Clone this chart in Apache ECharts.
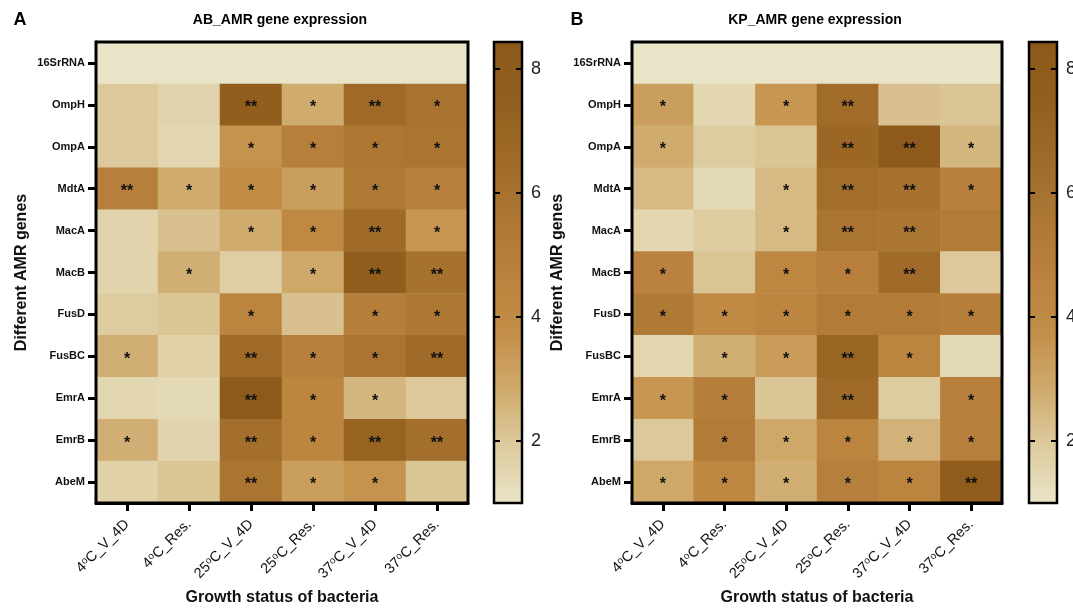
<!DOCTYPE html>
<html><head><meta charset="utf-8">
<script src="https://cdn.jsdelivr.net/npm/echarts@6/dist/echarts.min.js"></script>
<style>html,body{margin:0;padding:0;background:#fff}#c{width:1073px;height:608px}</style>
</head><body><div id="c"></div>
<script>
const conditions = ['4oC_V_4D', '4oC_Res.', '25oC_V_4D', '25oC_Res.', '37oC_V_4D', '37oC_Res.'];
const genes = ['16SrRNA', 'OmpH', 'OmpA', 'MdtA', 'MacA', 'MacB', 'FusD', 'FusBC', 'EmrA', 'EmrB', 'AbeM'];

// AB panel: fold change per gene (rows) x condition (columns)
const abValues = [
  [1.0, 1.0, 1.0, 1.0, 1.0, 1.0],
  [2.0, 1.6, 7.7, 2.8, 6.6, 5.9],
  [2.0, 1.5, 3.6, 4.9, 5.6, 5.8],
  [4.9, 2.8, 3.9, 3.2, 5.4, 4.8],
  [1.6, 2.2, 2.8, 4.1, 6.5, 3.5],
  [1.6, 2.7, 1.8, 2.9, 7.7, 6.0],
  [1.9, 2.1, 4.5, 2.2, 5.0, 5.5],
  [2.7, 1.7, 6.6, 4.8, 5.8, 6.5],
  [1.5, 1.4, 8.2, 4.4, 2.5, 2.0],
  [2.7, 1.6, 6.2, 4.4, 7.2, 6.2],
  [1.7, 2.1, 5.8, 3.2, 3.6, 2.1]
];
const abStars = [
  ['', '', '', '', '', ''],
  ['', '', '**', '*', '**', '*'],
  ['', '', '*', '*', '*', '*'],
  ['**', '*', '*', '*', '*', '*'],
  ['', '', '*', '*', '**', '*'],
  ['', '*', '', '*', '**', '**'],
  ['', '', '*', '', '*', '*'],
  ['*', '', '**', '*', '*', '**'],
  ['', '', '**', '*', '*', ''],
  ['*', '', '**', '*', '**', '**'],
  ['', '', '**', '*', '*', '']
];

// KP panel
const kpValues = [
  [1.0, 1.0, 1.0, 1.0, 1.0, 1.0],
  [3.2, 1.5, 3.5, 6.4, 2.2, 2.1],
  [2.8, 1.9, 2.1, 6.8, 8.2, 2.5],
  [2.4, 1.4, 2.4, 6.3, 6.0, 4.7],
  [1.5, 1.9, 2.4, 5.8, 5.7, 5.2],
  [4.6, 2.1, 4.3, 4.8, 6.5, 2.0],
  [5.4, 4.0, 4.4, 5.2, 5.2, 5.0],
  [1.5, 2.7, 3.3, 7.0, 4.5, 1.4],
  [3.5, 5.0, 2.1, 6.6, 1.9, 4.8],
  [2.0, 5.2, 2.9, 4.5, 2.6, 4.9],
  [2.9, 4.3, 2.7, 4.9, 4.5, 7.9]
];
const kpStars = [
  ['', '', '', '', '', ''],
  ['*', '', '*', '**', '', ''],
  ['*', '', '', '**', '**', '*'],
  ['', '', '*', '**', '**', '*'],
  ['', '', '*', '**', '**', ''],
  ['*', '', '*', '*', '**', ''],
  ['*', '*', '*', '*', '*', '*'],
  ['', '*', '*', '**', '*', ''],
  ['*', '*', '', '**', '', '*'],
  ['', '*', '*', '*', '*', '*'],
  ['*', '*', '*', '*', '*', '**']
];

const colorbarTicks = [2, 4, 6, 8];
const scaleMin = 1, scaleMax = 8.43;
const rampColors = ['#E9E4C7', '#DDCB9E', '#CFA96B', '#C28D47', '#B9813D', '#AC7633', '#9F6A27', '#925F1E', '#8C591A'];

function toCells(vals) {
  const out = [];
  vals.forEach((row, r) => row.forEach((v, c) => out.push([c, r, v])));
  return out;
}

const FONT = 'Arial, "Liberation Sans", sans-serif';
const panels = [
  {left: 96, width: 372, cbLeft: 494, letter: 'A', letterX: 20, title: 'AB_AMR gene expression', values: abValues, stars: abStars},
  {left: 632, width: 370, cbLeft: 1029, letter: 'B', letterX: 577, title: 'KP_AMR gene expression', values: kpValues, stars: kpStars}
];
const TOP = 42, HEIGHT = 461, CBW = 28;

const grid = [], xAxis = [], yAxis = [], series = [], visualMap = [], graphic = [];
panels.forEach((p, i) => {
  grid.push({left: p.left, top: TOP, width: p.width, height: HEIGHT, show: true, borderColor: '#000', borderWidth: 3, backgroundColor: 'transparent', z: 10, outerBoundsMode: 'none', containLabel: false});
  xAxis.push({
    type: 'category', gridIndex: grid.length - 1, data: conditions,
    axisLine: {show: true, lineStyle: {color: '#000', width: 3}},
    axisTick: {show: true, alignWithLabel: true, length: 8, lineStyle: {color: '#000', width: 3}},
    splitLine: {show: false},
    axisLabel: {
      rotate: 45, margin: 19, color: '#111', fontSize: 14.5, fontFamily: FONT,
      formatter: v => v.replace('oC', '{s|o}C'),
      rich: {s: {fontSize: 10, color: '#111', fontFamily: FONT, verticalAlign: 'bottom', padding: [0, 0, 5, 0]}}
    },
    name: 'Growth status of bacteria', nameLocation: 'middle', nameGap: 87,
    nameTextStyle: {fontSize: 16, fontWeight: 'bold', color: '#111', fontFamily: FONT}
  });
  yAxis.push({
    type: 'category', gridIndex: grid.length - 1, data: genes, inverse: true,
    axisLine: {show: true, lineStyle: {color: '#000', width: 3}},
    axisTick: {show: true, alignWithLabel: true, length: 8, lineStyle: {color: '#000', width: 3}},
    splitLine: {show: false},
    axisLabel: {fontSize: 11, fontWeight: 'bold', color: '#111', fontFamily: FONT, margin: 11},
    name: 'Different AMR genes', nameLocation: 'middle', nameGap: 66,
    nameTextStyle: {fontSize: 16, fontWeight: 'bold', color: '#111', fontFamily: FONT}
  });
  const stars = p.stars;
  series.push({
    type: 'heatmap', xAxisIndex: xAxis.length - 1, yAxisIndex: yAxis.length - 1,
    data: toCells(p.values),
    itemStyle: {borderWidth: 0},
    label: {
      show: true, fontSize: 16, fontWeight: 'bold', color: '#111', fontFamily: FONT, offset: [0, 3],
      formatter: q => stars[q.data[1]][q.data[0]]
    },
    emphasis: {disabled: true}
  });
  visualMap.push({
    type: 'continuous', seriesIndex: series.length - 1, min: scaleMin, max: scaleMax,
    calculable: false, orient: 'vertical', left: p.cbLeft, top: TOP, itemWidth: CBW, itemHeight: HEIGHT,
    padding: 0, inRange: {color: rampColors}, z: 1
  });
  // colour-bar frame & ticks (ticks on both inner edges via a dashed full-width tick)
  grid.push({left: p.cbLeft, top: TOP, width: CBW, height: HEIGHT, show: true, borderColor: '#000', borderWidth: 2.5, backgroundColor: 'transparent', z: 10, outerBoundsMode: 'none', containLabel: false});
  const gi = grid.length - 1;
  xAxis.push({type: 'value', gridIndex: gi, show: false, min: 0, max: 1});
  yAxis.push({
    type: 'value', gridIndex: gi, min: scaleMin, max: scaleMax, position: 'right', z: 20,
    axisLine: {show: false, onZero: false}, splitLine: {show: false},
    axisTick: {show: true, inside: true, length: CBW, lineStyle: {color: '#000', width: 2, type: [6, CBW - 12, 6]}, customValues: colorbarTicks},
    axisLabel: {show: true, customValues: colorbarTicks, fontSize: 18, color: '#222', fontFamily: FONT, margin: 9}
  });
  graphic.push({type: 'text', x: p.letterX, y: 20, z: 20, style: {text: p.letter, font: 'bold 18px ' + FONT, fill: '#000', align: 'center', verticalAlign: 'middle'}});
  graphic.push({type: 'text', x: p.left + p.width / 2 - 2, y: 20, z: 20, style: {text: p.title, font: 'bold 14px ' + FONT, fill: '#000', align: 'center', verticalAlign: 'middle'}});
});

const chart = echarts.init(document.getElementById('c'), null, {renderer: 'canvas'});
chart.setOption({
  animation: false,
  backgroundColor: '#fff',
  grid, xAxis, yAxis, series, visualMap, graphic
});
</script></body></html>
